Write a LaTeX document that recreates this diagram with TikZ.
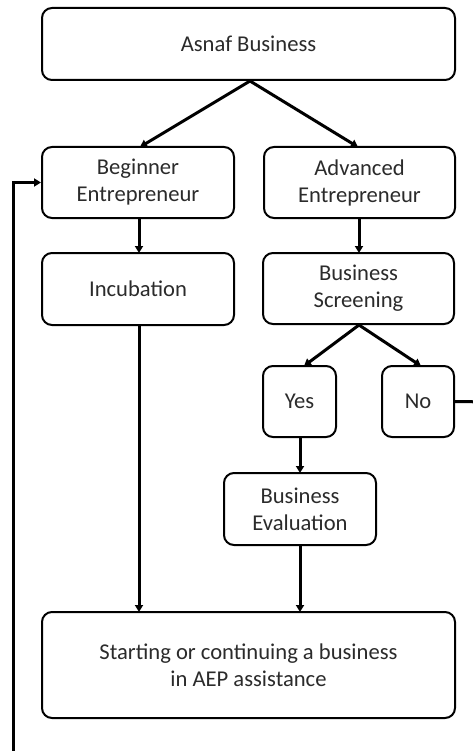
\documentclass[tikz,border=0pt]{standalone}
\usepackage{fontspec}
\setmainfont{Carlito}
\usetikzlibrary{arrows.meta}
\definecolor{txt}{HTML}{2B2B2B}
\tikzset{
  box/.style={draw=black, line width=2pt, rounded corners=10pt, align=center,
    text=txt, font=\fontsize{22.6}{27}\selectfont, inner sep=0pt},
  arr/.style={line width=3pt, -{Triangle[length=7pt,width=8pt]}},
  link/.style={line width=3pt}
}
\begin{document}
\begin{tikzpicture}[x=1pt,y=-1pt]
\useasboundingbox (0,0) rectangle (473,751);
\fill[white] (0,0) rectangle (473,751);
\clip (0,0) rectangle (473,751);
\node[box, minimum width=413pt, minimum height=72pt] (asnaf) at (248.5,44) {Asnaf Business};
\node[box, minimum width=192pt, minimum height=71pt] (beg) at (138,182.5) {Beginner\\Entrepreneur};
\node[box, minimum width=191pt, minimum height=71pt] (adv) at (359.5,182.5) {Advanced\\Entrepreneur};
\node[box, minimum width=192pt, minimum height=72pt] (inc) at (138,289) {Incubation};
\node[box, minimum width=191pt, minimum height=71pt] (scr) at (358.5,288.5) {Business\\Screening};
\node[box, minimum width=73pt, minimum height=71pt] (yes) at (299.5,401.5) {Yes};
\node[box, minimum width=72pt, minimum height=71pt] (no) at (418,401.5) {No};
\node[box, minimum width=152pt, minimum height=72pt] (eva) at (300,509) {Business\\Evaluation};
\node[box, minimum width=413pt, minimum height=106pt] (fin) at (248.5,665) {Starting or continuing a business\\in AEP assistance};
% connectors
\draw[arr] (asnaf.south) ++(1.5,0) -- (140,147);
\draw[arr] (asnaf.south) ++(1.5,0) -- (358,147);
\draw[arr] (139,218) -- (139,253);
\draw[arr] (359,218) -- (359,253);
\draw[arr] (scr.south) ++(0.5,0) -- (304,366);
\draw[arr] (scr.south) ++(0.5,0) -- (421,366);
\draw[arr] (300,437) -- (300,473);
\draw[arr] (300,545) -- (300,612);
\draw[arr] (139,325) -- (139,612);
\coordinate (c1) at (490,402);
\coordinate (c2) at (490,770);
\coordinate (c3) at (13,770);
\draw[link] (no.east) -- (c1) -- (c2) -- (c3);
\draw[arr] (c3) |- (beg.west);
\end{tikzpicture}
\end{document}
